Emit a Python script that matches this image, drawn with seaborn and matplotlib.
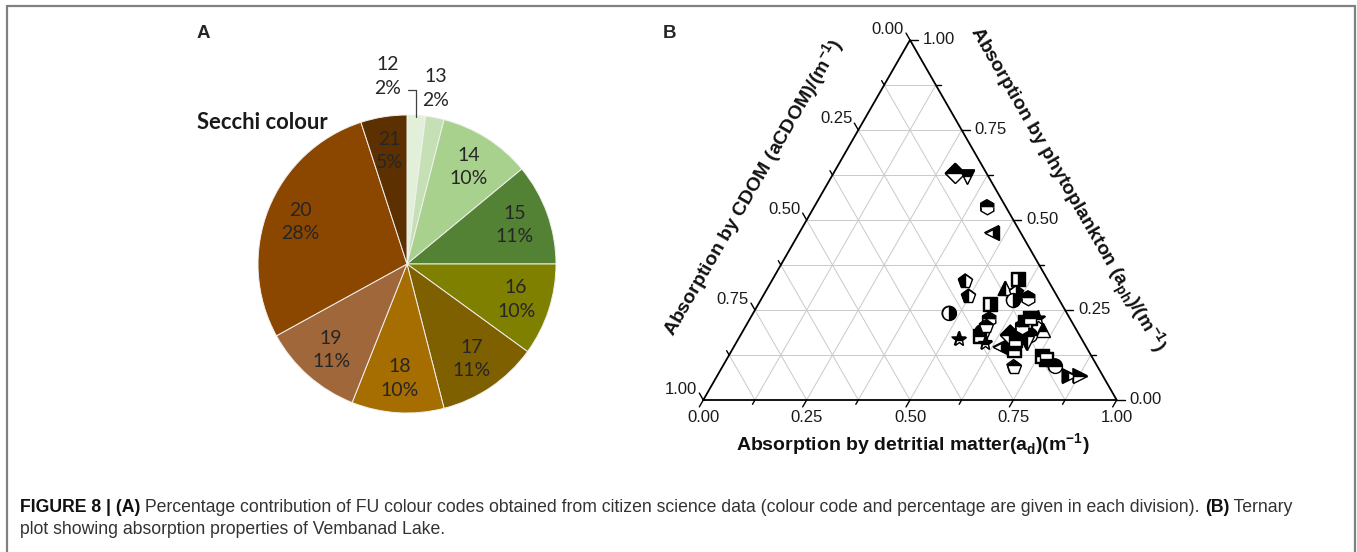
import numpy as np
import pandas as pd
import matplotlib
matplotlib.use("Agg")
import matplotlib.pyplot as plt
import matplotlib.transforms as mtransforms
from matplotlib.lines import Line2D
import seaborn as sns

# ---- Panel A: share of Forel-Ule colour codes (Secchi colour) ----
fu_codes = ["12", "13", "14", "15", "16", "17", "18", "19", "20", "21"]
fu_share = [2, 2, 10, 11, 10, 11, 10, 11, 28, 5]
fu_colours = ["#e2f0d9", "#c5e0b4", "#a9d18e", "#548235", "#7f7f00",
              "#7f6000", "#a66d00", "#a0673a", "#8b4700", "#5c3000"]

# ---- Panel B: absorption fractions of each sample ----
a_d = [0.294, 0.329, 0.417, 0.465, 0.468, 0.497, 0.559, 0.474, 0.578, 0.579,
       0.580, 0.533, 0.602, 0.644, 0.593, 0.575, 0.606, 0.611, 0.643, 0.669,
       0.696, 0.724, 0.652, 0.678, 0.699, 0.681, 0.703, 0.757, 0.772, 0.704,
       0.803, 0.851, 0.877, 0.668, 0.676, 0.581, 0.671]
a_cdom = [0.076, 0.051, 0.046, 0.070, 0.201, 0.214, 0.174, 0.285, 0.198, 0.231,
          0.242, 0.298, 0.239, 0.208, 0.071, 0.115, 0.095, 0.111, 0.073, 0.113,
          0.077, 0.082, 0.167, 0.146, 0.120, 0.180, 0.139, 0.120, 0.114, 0.203,
          0.102, 0.081, 0.055, 0.128, 0.096, 0.213, 0.162]
a_ph = [0.630, 0.620, 0.537, 0.465, 0.331, 0.289, 0.267, 0.241, 0.224, 0.190,
        0.178, 0.169, 0.159, 0.148, 0.336, 0.310, 0.299, 0.278, 0.284, 0.218,
        0.227, 0.194, 0.181, 0.176, 0.181, 0.139, 0.158, 0.123, 0.114, 0.093,
        0.095, 0.068, 0.068, 0.204, 0.228, 0.206, 0.167]

# symbol and half-fill used for each sample
symbols = ["D", "v", "h", "<", "p", "p", "s", "o", "h", "o",
           "s", "*", "*", "<", "s", "^", "p", "o", "h", "s",
           "*", "^", "D", "v", "o", "s", "v", "s", "s", "p",
           "o", ">", ">", "h", "s", "p", "s"]
halves = ["top", "top", "top", "right", "left", "left", "right", "right", "top", "top",
          "top", "top", "top", "right", "right", "left", "right", "right", "top", "top",
          "top", "top", "top", "top", "top", "top", "left", "top", "bottom", "top",
          "top", "left", "top", "top", "top", "top", "top"]

tick_vals = [0.0, 0.25, 0.5, 0.75, 1.0]

sns.set_theme(style="white")
plt.rcParams["font.family"] = ["Liberation Sans", "DejaVu Sans"]
plt.rcParams["mathtext.fontset"] = "custom"
plt.rcParams["mathtext.rm"] = "Liberation Sans"
plt.rcParams["mathtext.bf"] = "Liberation Sans:bold"

W, H = 1357, 552
fig = plt.figure(figsize=(W / 100, H / 100), dpi=100)
fig.patch.set_facecolor("white")


def fx(px):
    return px / W


def fy(py):
    return 1 - py / H


# outer frame
frame_kw = dict(color="#808080", lw=1.6, transform=fig.transFigure)
fig.add_artist(Line2D([fx(7), fx(7)], [fy(6), 0], **frame_kw))
fig.add_artist(Line2D([fx(7), fx(1355)], [fy(6), fy(6)], **frame_kw))
fig.add_artist(Line2D([fx(1355), fx(1355)], [fy(6), 0], **frame_kw))

# panel letters
fig.text(fx(197), fy(33), "A", fontsize=13.5, fontweight="bold", va="center", ha="left")
fig.text(fx(663), fy(33), "B", fontsize=13.5, fontweight="bold", va="center", ha="left")

# ================= Panel A: pie =================
cx, cy, r = 407, 264, 149
ax_pie = fig.add_axes([fx(cx - r), fy(cy + r), 2 * r / W, 2 * r / H])
wedges, _ = ax_pie.pie(fu_share, colors=fu_colours, startangle=90, counterclock=False,
                       wedgeprops=dict(edgecolor="#f0f0f0", linewidth=0.7))
ax_pie.set_xlim(-1, 1)
ax_pie.set_ylim(-1, 1)
ax_pie.set_aspect("auto")

pie_font = ["Lato", "DejaVu Sans"]
lab_kw = dict(ha="center", va="center", fontsize=14, color="#262626",
              family=pie_font, linespacing=1.45)
for i, w in enumerate(wedges):
    ang = np.deg2rad((w.theta1 + w.theta2) / 2)
    txt = f"{fu_codes[i]}\n{fu_share[i]}%"
    ux, uy = np.cos(ang), np.sin(ang)
    if i == 0:
        # leader line from the thin slice up to its label
        elbow_y = 1.168
        ax_pie.plot([ux * 0.99, ux * 0.99, ux * 0.99 - 0.055], [uy * 0.99, elbow_y, elbow_y],
                    color="#404040", lw=0.9, clip_on=False)
        ax_pie.text(ux * 0.99 - 0.19, elbow_y + 0.09, txt, **lab_kw)
    elif i == 1:
        ax_pie.text(ux * 1.2 - 0.035, uy * 1.2, txt, **lab_kw)
    else:
        ax_pie.text(ux * 0.77, uy * 0.77, txt, **lab_kw)

ax_pie.text(-1.41, 0.95, "Secchi colour", ha="left", va="center", fontsize=15.8,
            fontweight="bold", color="#1a1a1a", family=pie_font)

# ================= Panel B: ternary =================
h = np.sqrt(3) / 2
bl_x, br_x, base_y, top_y = 703.3, 1116.7, 400, 40
ax_t = fig.add_axes([fx(bl_x), fy(base_y), (br_x - bl_x) / W, (base_y - top_y) / H])
ax_t.set_xlim(0, 1)
ax_t.set_ylim(0, h)
ax_t.axis("off")
sx = (br_x - bl_x)          # px per x-unit
sy = (base_y - top_y) / h   # px per y-unit

grid_kw = dict(color="#c9c9c9", lw=0.7, zorder=1)
for k in range(1, 8):
    f = k / 8
    ax_t.plot([f / 2, 1 - f / 2], [f * h, f * h], **grid_kw)                 # const phytoplankton
    ax_t.plot([f, (1 + f) / 2], [0, (1 - f) * h], **grid_kw)                 # const detritus
    ax_t.plot([1 - f, (1 - f) / 2], [0, (1 - f) * h], **grid_kw)             # const CDOM
ax_t.plot([0, 1, 0.5, 0], [0, 0, h, 0], color="black", lw=1.3, zorder=2, clip_on=False)


def tick(x0, y0, dxp, dyp, lw=1.0):
    ax_t.plot([x0, x0 + dxp / sx], [y0, y0 + dyp / sy], color="black", lw=lw,
              clip_on=False, zorder=2)


lab_t = dict(fontsize=12, color="#1a1a1a")
for k in range(9):
    f = k / 8
    major = k % 2 == 0
    L = 8 if major else 5
    # bottom axis (detritus): ticks along constant-d lines
    tick(f, 0, -0.5 * L, -0.866 * L)
    # left axis (CDOM): c = f, point on left edge
    lx, ly = (1 - f) / 2, (1 - f) * h
    tick(lx, ly, -0.5 * L, 0.866 * L)
    # right axis (phytoplankton): p = f
    rx, ry = 1 - f / 2, f * h
    tick(rx, ry, L, 0)

for v in tick_vals:
    t = mtransforms.offset_copy(ax_t.transData, fig=fig, x=0, y=-18, units="dots")
    ax_t.text(v, 0, f"{v:.2f}", transform=t, ha="center", va="center", **lab_t)
    t = mtransforms.offset_copy(ax_t.transData, fig=fig, x=-6, y=11, units="dots")
    ax_t.text((1 - v) / 2, (1 - v) * h, f"{v:.2f}", transform=t, ha="right", va="center", **lab_t)
    t = mtransforms.offset_copy(ax_t.transData, fig=fig, x=13, y=0, units="dots")
    ax_t.text(1 - v / 2, v * h, f"{v:.2f}", transform=t, ha="left", va="center", **lab_t)

# sample positions in the triangle
tot = np.array(a_d) + np.array(a_cdom) + np.array(a_ph)
df = pd.DataFrame({
    "x": (np.array(a_d) + np.array(a_ph) / 2) / tot,
    "y": np.array(a_ph) / tot * h,
    "symbol": symbols,
    "half": halves,
})
msize = {"s": 9, "*": 11, "p": 10.5, "h": 10.5}
sns.scatterplot(data=df, x="x", y="y", style="symbol",
                markers={m: m for m in df["symbol"].unique()},
                color="white", edgecolor="black", linewidth=1.0, s=100,
                legend=False, ax=ax_t, zorder=3, clip_on=False)
for _, row in df.iterrows():
    ax_t.plot(row["x"], row["y"], marker=row["symbol"], fillstyle=row["half"],
              markersize=msize.get(row["symbol"], 10), markerfacecolor="black",
              markerfacecoloralt="white", markeredgecolor="black",
              markeredgewidth=1.0, linestyle="none", zorder=4, clip_on=False)
ax_t.set_xlim(0, 1)
ax_t.set_ylim(0, h)
ax_t.axis("off")

title_kw = dict(fontsize=14, fontweight="bold", ha="center", va="center",
                color="#111111")
fig.text(fx(913), fy(445), r"Absorption by detritial matter(a$_{\mathbf{d}}$)(m$^{\mathbf{-1}}$)",
         **title_kw)
fig.text(fx(753), fy(188), r"Absorption by CDOM (aCDOM)/(m$^{\mathbf{-1}}$)",
         rotation=60, rotation_mode="anchor", **title_kw)
fig.text(fx(1067), fy(190), r"Absorption by phytoplankton (a$_{\mathbf{ph}}$)/(m$^{\mathbf{-1}}$)",
         rotation=-60, rotation_mode="anchor", **title_kw)

# ================= caption =================
renderer = fig.canvas.get_renderer()
cap_size = 12.7
lines = [
    [("FIGURE 8 | (A)", "bold", "#111111"),
     (" Percentage contribution of FU colour codes obtained from citizen science data "
      "(colour code and percentage are given in each division). ", "normal", "#333333"),
     ("(B)", "bold", "#111111"),
     (" Ternary", "normal", "#333333")],
    [("plot showing absorption properties of Vembanad Lake.", "normal", "#333333")],
]
for yline, runs in zip([507, 530], lines):
    xpos = 20
    for text, weight, col in runs:
        t = fig.text(fx(xpos), fy(yline), text, fontsize=cap_size, fontweight=weight,
                     color=col, ha="left", va="center")
        bb = t.get_window_extent(renderer=renderer)
        xpos += bb.width

fig.savefig("out.png", dpi=100, facecolor="white")
